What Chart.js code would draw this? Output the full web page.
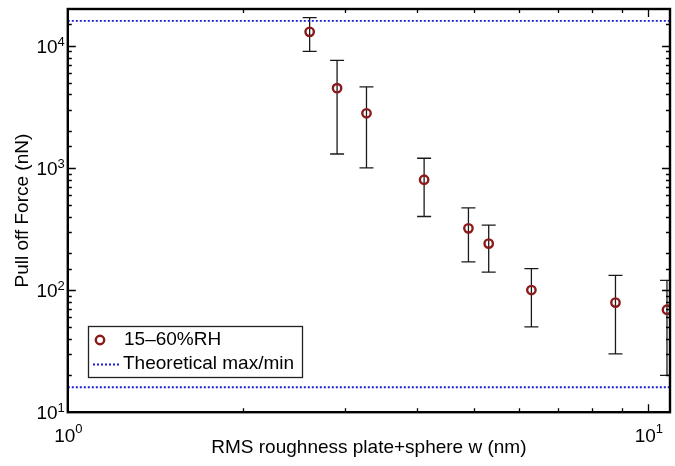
<!DOCTYPE html>
<html>
<head>
<meta charset="utf-8">
<script src="https://cdn.jsdelivr.net/npm/chart.js@4.4.0/dist/chart.umd.min.js"></script>
<style>
  html, body { margin: 0; padding: 0; background: #fff; }
</style>
</head>
<body>
<canvas id="chart" width="675" height="466"></canvas>
<script>
// meetpunten: ruwheid w (nm) tegen pull off kracht (nN)
const roughness = [2.61, 2.91, 3.27, 4.11, 4.90, 5.31, 6.29, 8.78, 10.77];
const pullOff   = [13000, 4500, 2800, 800, 320, 240, 100, 79, 69];
const errHigh   = [17000, 7600, 4600, 1200, 470, 340, 150, 132, 120];
const errLow    = [9000, 1300, 1000, 400, 170, 140, 50, 30, 20];

// theoretische grenzen
const theoryMax = 16000;
const theoryMin = 16;

// assen
const xRange = [1, 10.9];
const yRange = [10, 20000];
const xTicks = [1, 10];
const yTicks = [10, 100, 1000, 10000];

const FONT = "'Liberation Sans', Arial, sans-serif";
const RED = '#8b1a1a';
const BLUE = '#1a1ae0';

let isMajor = v => Math.abs(Math.log10(v) - Math.round(Math.log10(v))) < 1e-9;

// foutbalken onder de punten tekenen
const errorBars = {
  id: 'errorBars',
  beforeDatasetsDraw(chart) {
    const {ctx, chartArea, scales} = chart;
    ctx.save();
    ctx.beginPath();
    ctx.rect(chartArea.left, chartArea.top, chartArea.width, chartArea.height);
    ctx.clip();
    ctx.strokeStyle = '#1a1a1a';
    ctx.lineWidth = 1.3;
    for (let i = 0; i < roughness.length; i++) {
      const x = scales.x.getPixelForValue(roughness[i]);
      const yt = scales.y.getPixelForValue(errHigh[i]);
      const yb = scales.y.getPixelForValue(errLow[i]);
      ctx.beginPath();
      ctx.moveTo(x, yt); ctx.lineTo(x, yb);
      ctx.moveTo(x - 7, yt); ctx.lineTo(x + 7, yt);
      ctx.moveTo(x - 7, yb); ctx.lineTo(x + 7, yb);
      ctx.stroke();
    }
    ctx.restore();
  }
};

// kader, ticks naar binnen, labels 10^n en legenda
const matlabAxes = {
  id: 'matlabAxes',
  afterDraw(chart) {
    const {ctx, chartArea: a, scales} = chart;
    ctx.save();
    ctx.strokeStyle = '#000';
    ctx.lineWidth = 1.3;
    ctx.beginPath();
    scales.x.ticks.forEach(t => {
      if (t.value <= xRange[0] || t.value >= xRange[1]) return;
      const x = Math.round(scales.x.getPixelForValue(t.value)) + 0.5;
      const len = isMajor(t.value) ? 8 : 4;
      ctx.moveTo(x, a.bottom); ctx.lineTo(x, a.bottom - len);
      ctx.moveTo(x, a.top); ctx.lineTo(x, a.top + len);
    });
    scales.y.ticks.forEach(t => {
      if (t.value <= yRange[0] || t.value >= yRange[1]) return;
      const y = Math.round(scales.y.getPixelForValue(t.value)) + 0.5;
      const len = isMajor(t.value) ? 8 : 4;
      ctx.moveTo(a.left, y); ctx.lineTo(a.left + len, y);
      ctx.moveTo(a.right, y); ctx.lineTo(a.right - len, y);
    });
    ctx.stroke();

    ctx.lineWidth = 2.4;
    ctx.strokeRect(a.left, a.top, a.width, a.height);

    // tick labels
    ctx.fillStyle = '#000';
    ctx.textBaseline = 'alphabetic';
    yTicks.forEach(v => {
      const y = scales.y.getPixelForValue(v);
      const exp = String(Math.round(Math.log10(v)));
      ctx.font = '13px ' + FONT;
      ctx.textAlign = 'right';
      ctx.fillText(exp, a.left - 3, y);
      const ew = ctx.measureText(exp).width;
      ctx.font = '19px ' + FONT;
      ctx.fillText('10', a.left - 3 - ew, y + 7);
    });
    xTicks.forEach(v => {
      const x = scales.x.getPixelForValue(v);
      const exp = String(Math.round(Math.log10(v)));
      ctx.font = '19px ' + FONT;
      ctx.textAlign = 'center';
      ctx.fillText('10', x - 3, 442);
      const w = ctx.measureText('10').width;
      ctx.font = '13px ' + FONT;
      ctx.textAlign = 'left';
      ctx.fillText(exp, x - 3 + w / 2, 433);
    });

    // legenda
    const ds = chart.data.datasets;
    const bx = 88, by = 326, bw = 214, bh = 51;
    ctx.fillStyle = '#fff';
    ctx.fillRect(bx, by, bw, bh);
    ctx.strokeStyle = '#222';
    ctx.lineWidth = 1.3;
    ctx.strokeRect(bx + 0.5, by + 0.5, bw, bh);

    ctx.beginPath();
    ctx.arc(100, 340, ds[0].pointRadius, 0, Math.PI * 2);
    ctx.strokeStyle = ds[0].pointBorderColor;
    ctx.lineWidth = ds[0].pointBorderWidth;
    ctx.stroke();

    ctx.beginPath();
    ctx.setLineDash(ds[1].borderDash);
    ctx.strokeStyle = ds[1].borderColor;
    ctx.lineWidth = ds[1].borderWidth;
    ctx.moveTo(93, 364.5); ctx.lineTo(119, 364.5);
    ctx.stroke();
    ctx.setLineDash([]);

    ctx.fillStyle = '#000';
    ctx.font = '19px ' + FONT;
    ctx.textAlign = 'left';
    ctx.textBaseline = 'middle';
    ctx.fillText(ds[0].label, 124, 340);
    ctx.fillText(ds[1].label, 123, 364);
    ctx.restore();
  }
};

let points = roughness.map((w, i) => ({x: w, y: pullOff[i]}));
let theoryLines = [
  {x: xRange[0], y: theoryMax}, {x: xRange[1], y: theoryMax},
  {x: xRange[1], y: null},
  {x: xRange[0], y: theoryMin}, {x: xRange[1], y: theoryMin}
];

new Chart(document.getElementById('chart'), {
  type: 'scatter',
  data: {
    datasets: [
      {
        label: '15\u201360%RH',
        data: points,
        pointRadius: 4.2,
        pointBorderWidth: 2.4,
        pointBorderColor: RED,
        pointBackgroundColor: 'rgba(0,0,0,0)',
        showLine: false
      },
      {
        label: 'Theoretical max/min',
        data: theoryLines,
        showLine: true,
        spanGaps: false,
        borderColor: BLUE,
        borderWidth: 1.8,
        borderDash: [2, 2],
        pointRadius: 0,
        fill: false
      }
    ]
  },
  options: {
    responsive: false,
    animation: false,
    devicePixelRatio: 1,
    events: [],
    layout: { padding: { left: 0, right: 5, top: 9, bottom: 0 }, autoPadding: false },
    plugins: { legend: { display: false }, tooltip: { enabled: false } },
    scales: {
      x: {
        type: 'logarithmic',
        min: xRange[0], max: xRange[1],
        grid: { display: false, drawTicks: false },
        border: { display: false },
        ticks: { display: false },
        title: {
          display: true,
          text: 'RMS roughness plate+sphere w (nm)',
          color: '#000',
          font: { family: FONT, size: 19 },
          padding: { top: 24, bottom: 7 }
        }
      },
      y: {
        type: 'logarithmic',
        min: yRange[0], max: yRange[1],
        grid: { display: false, drawTicks: false },
        border: { display: false },
        ticks: { display: false },
        title: {
          display: true,
          text: 'Pull off Force (nN)',
          color: '#000',
          font: { family: FONT, size: 19 },
          padding: { top: 11, bottom: 34 }
        }
      }
    }
  },
  plugins: [errorBars, matlabAxes]
});
</script>
</body>
</html>
